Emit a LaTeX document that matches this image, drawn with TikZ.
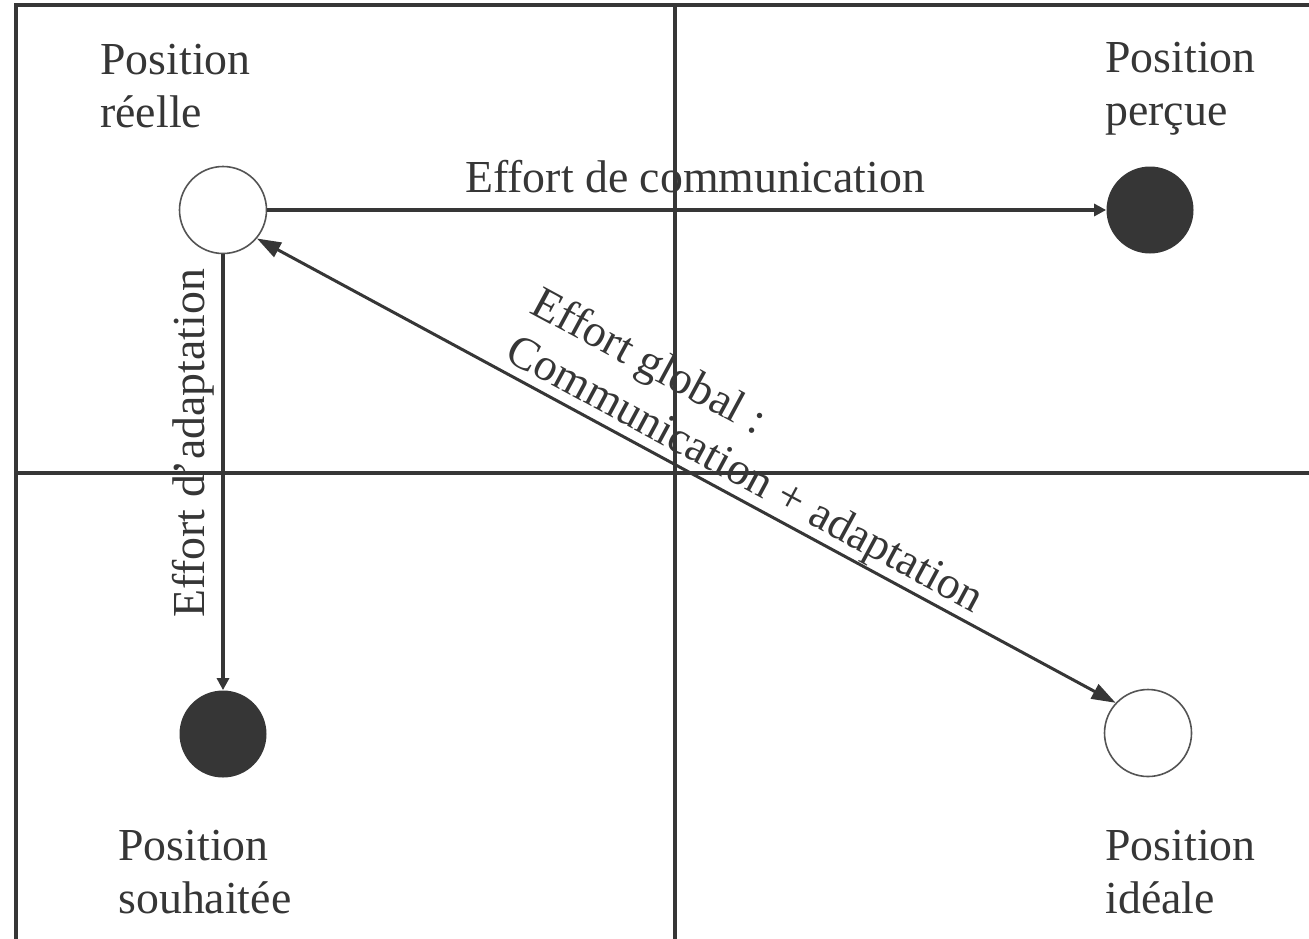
\documentclass[tikz,border=0pt]{standalone}
\usepackage{fontspec}
\setmainfont{Liberation Serif}
\usepackage{tikz}
\usetikzlibrary{arrows.meta,positioning}

\definecolor{ink}{HTML}{363636}

\begin{document}
\begin{tikzpicture}[x=0.5pt,y=-0.5pt,
  every node/.style={text=ink,inner sep=0pt,font=\fontsize{22.9}{26.5}\selectfont},
  grid line/.style={draw=ink,line width=1.6pt},
  open pos/.style={circle,draw=ink!85,line width=0.8pt,fill=white,minimum size=43.5pt},
  full pos/.style={circle,fill=ink,minimum size=43.5pt},
  pos label/.style={anchor=north west,align=left},
  effort/.style={draw=ink,line width=1.6pt,-{Triangle[length=6pt,width=6pt]}},
  global/.style={draw=ink,line width=1.5pt,{Triangle[length=12pt,width=8pt]}-{Triangle[length=12pt,width=8pt]}}]
\clip (0,0) rectangle (1309,938);
% the four quadrants
\draw[grid line] (16,945) -- (16,5) -- (1315,5);
\draw[grid line] (675,5) -- (675,945);
\draw[grid line] (16,473) -- (1315,473);
% positions
\node[open pos] (reelle) at (223,210) {};
\node[full pos] (percue) at (1150,210) {};
\node[full pos] (souhaitee) at (223,734) {};
\node[open pos] (ideale) at (1148,733) {};
\node[pos label] (lreelle) at (100,44) {Position\\réelle};
\node[pos label] (lpercue) at (1105,42) {Position\\perçue};
\node[pos label] (lsouhaitee) at (118,830) {Position\\souhaitée};
\node[pos label] (lideale) at (1105,830) {Position\\idéale};
% efforts
\draw[effort] (reelle) -- node[above=7.5pt,pos=0.51] (comm) {Effort de communication} (percue);
\draw[effort] (reelle) -- node[pos=0.434,rotate=90,anchor=south,yshift=3.5pt] (adapt) {Effort d'adaptation} (souhaitee);
\draw[global] (reelle.-40) -- node[above,sloped,align=left,pos=0.555] (glob) {Effort global :\\Communication + adaptation} (ideale.137);
\end{tikzpicture}
\end{document}
